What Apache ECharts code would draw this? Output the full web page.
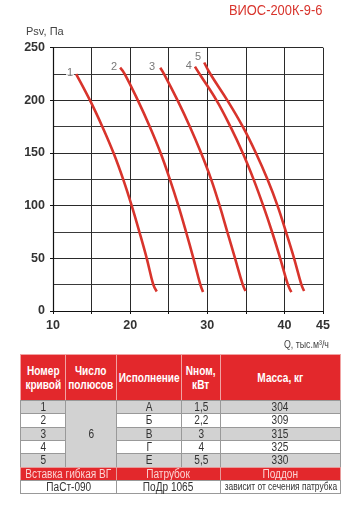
<!DOCTYPE html>
<html>
<head>
<meta charset="utf-8">
<script src="https://cdn.jsdelivr.net/npm/echarts@6/dist/echarts.min.js"></script>
<style>
  html,body{margin:0;padding:0;background:#fff;}
  #wrap{position:relative;width:358px;height:516px;overflow:hidden;}
  #chart{position:absolute;left:0;top:0;width:358px;height:516px;}
  .cell{position:absolute;box-sizing:border-box;display:flex;align-items:center;justify-content:center;text-align:center;overflow:visible;
        font-family:'Liberation Sans',Arial,sans-serif;color:#333;font-size:12px;line-height:12px;}
  .cell span{display:inline-block;white-space:nowrap;transform:scaleX(0.84);transform-origin:center center;}
</style>
</head>
<body>
<div id="wrap">
  <div id="chart"></div>
</div>
<script>
// ---- chart data ----
const xLabelValues = [10, 20, 30, 40, 45];
const curveNames = ['1', '2', '3', '4', '5'];
const curve1 = [[13.0,225],[14.8,200],[16.4,175],[17.85,150],[19.1,125],[20.2,100],[21.2,75],[22.15,50],[23.0,25],[23.45,18.5]];
const curve2 = [[18.7,231],[19.3,225],[21.0,200],[22.55,175],[23.95,150],[25.15,125],[26.25,100],[27.25,75],[28.2,50],[29.1,25],[29.45,18]];
const curve3 = [[23.9,231],[24.4,225],[26.15,200],[27.75,175],[29.2,150],[30.5,125],[31.6,100],[32.6,75],[33.6,50],[34.6,25],[34.95,19]];
const curve4 = [[28.4,232],[29.0,225],[31.2,200],[33.0,175],[34.6,150],[36.0,125],[37.25,100],[38.4,75],[39.45,50],[40.45,25],[40.9,18]];
const curve5 = [[29.6,236],[30.4,225],[32.6,200],[34.6,175],[36.3,150],[37.8,125],[39.1,100],[40.2,75],[41.25,50],[42.2,25],[42.55,19]];
const curves = [curve1, curve2, curve3, curve4, curve5];

// ---- table data ----
const curveNo = ['1', '2', '3', '4', '5'];
const poles = '6';
const versions = ['А', 'Б', 'В', 'Г', 'Е'];
const powers = ['1,5', '2,2', '3', '4', '5,5'];
const masses = ['304', '309', '315', '325', '330'];
const headers = [['Номер', 'кривой'], ['Число', 'полюсов'], ['Исполнение'], ['Nном,', 'кВт'], ['Масса, кг']];
const accHeaders = ['Вставка гибкая ВГ', 'Патрубок', 'Поддон'];
const accValues = ['ПаСт-090', 'ПоДр 1065', 'зависит от сечения патрубка'];

const RED = '#d8342c';
const FONT = "'Liberation Sans', Arial, sans-serif";

const chart = echarts.init(document.getElementById('chart'), null, {renderer: 'canvas'});

const series = curves.map((c, i) => ({
  type: 'line',
  name: curveNames[i],
  data: c,
  smooth: 0.4,
  showSymbol: false,
  symbol: 'none',
  lineStyle: {color: RED, width: 2.6},
  silent: true,
  z: 3
}));

// curve number labels at the start of each curve
series.push({
  type: 'scatter',
  symbolSize: 0,
  silent: true,
  z: 4,
  data: curves.map((c, i) => ({
    value: c[0],
    label: {
      show: true,
      formatter: curveNames[i],
      position: 'left',
      distance: i === 2 ? 4 : 2,
      offset: i === 4 ? [0, -5] : [0, -1],
      color: '#555',
      fontSize: 11,
      fontFamily: FONT,
      backgroundColor: '#fff',
      padding: [0, 1]
    }
  }))
});

chart.setOption({
  animation: false,
  grid: {left: 53, right: 35, top: 47.7, bottom: 205, containLabel: false},
  xAxis: {
    type: 'value', min: 10, max: 45, interval: 5,
    axisLine: {show: true, onZero: false, lineStyle: {color: '#111', width: 1.2}},
    axisTick: {show: true, length: 3, inside: false, lineStyle: {color: '#111'}},
    axisLabel: {
      color: '#333', fontWeight: 'bold', fontSize: 12.5, fontFamily: FONT, margin: 8,
      formatter: v => xLabelValues.indexOf(v) >= 0 ? String(v) : ''
    },
    splitLine: {show: true, lineStyle: {color: '#2a2a2a', width: 1}}
  },
  yAxis: {
    type: 'value', min: 0, max: 250, interval: 50,
    axisLine: {show: true, lineStyle: {color: '#111', width: 1.2}},
    axisTick: {show: true, length: 3, lineStyle: {color: '#111'}},
    axisLabel: {color: '#333', fontWeight: 'bold', fontSize: 12.5, fontFamily: FONT, margin: 8},
    splitLine: {show: true, lineStyle: {color: '#2a2a2a', width: 1}},
    minorTick: {show: false, splitNumber: 2},
    minorSplitLine: {show: true, lineStyle: {color: '#3a3a3a', width: 1}}
  },
  graphic: [
    {type: 'text', x: 229, y: 4, scaleX: 0.92, style: {text: 'ВИОС-200К-9-6', fill: RED, font: "14px 'Liberation Sans', Arial, sans-serif"}},
    {type: 'text', x: 26, y: 26, style: {text: 'Psv, Па', fill: '#444', font: "11px 'Liberation Sans', Arial, sans-serif"}},
    {type: 'text', x: 284, y: 339, scaleX: 0.8, style: {text: 'Q, тыс.м³/ч', fill: '#444', font: "11px 'Liberation Sans', Arial, sans-serif"}}
  ],
  series: series
});

// ---- table (HTML, real text) ----
const wrap = document.getElementById('wrap');
const colX = [20, 65, 116, 181, 220, 340];
const headTop = 354, headBot = 400, rowH = 13.33;
function cell(x0, x1, y0, y1, lines, style) {
  const d = document.createElement('div');
  d.className = 'cell';
  d.style.left = x0 + 'px';
  d.style.top = y0 + 'px';
  d.style.width = (x1 - x0 + 1) + 'px';
  d.style.height = (y1 - y0 + 1) + 'px';
  const s = document.createElement('span');
  (Array.isArray(lines) ? lines : [lines]).forEach((t, k) => {
    if (k) s.appendChild(document.createElement('br'));
    s.appendChild(document.createTextNode(t));
  });
  d.appendChild(s);
  Object.assign(d.style, style || {});
  wrap.appendChild(d);
}
const headStyle = {background: '#e3282c', color: '#fff', fontWeight: 'bold', fontSize: '12px', lineHeight: '14px', border: '1px solid #f1a3a3'};
headers.forEach((h, i) => cell(colX[i], colX[i + 1], headTop, headBot, h, headStyle));
const gray = '#d2d2d2';
for (let r = 0; r < 5; r++) {
  const y0 = headBot + r * rowH, y1 = headBot + (r + 1) * rowH;
  const bg = r % 2 === 0 ? gray : '#fff';
  const st = {background: bg, border: '1px solid #999'};
  cell(colX[0], colX[1], y0, y1, curveNo[r], st);
  cell(colX[2], colX[3], y0, y1, versions[r], st);
  cell(colX[3], colX[4], y0, y1, powers[r], st);
  cell(colX[4], colX[5], y0, y1, masses[r], st);
}
cell(colX[1], colX[2], headBot, headBot + 5 * rowH, poles, {background: gray, border: '1px solid #999'});
const accTop = headBot + 5 * rowH, accMid = accTop + rowH, accBot = accMid + rowH;
const accHeadStyle = {background: '#e3282c', color: '#fbd3d3', fontSize: '12px', border: '1px solid #e79a9a'};
cell(colX[0], colX[2], accTop, accMid, accHeaders[0], accHeadStyle);
cell(colX[2], colX[4], accTop, accMid, accHeaders[1], accHeadStyle);
cell(colX[4], colX[5], accTop, accMid, accHeaders[2], accHeadStyle);
const accStyle = {background: '#fff', border: '1px solid #999'};
cell(colX[0], colX[2], accMid, accBot, accValues[0], accStyle);
cell(colX[2], colX[4], accMid, accBot, accValues[1], accStyle);
cell(colX[4], colX[5], accMid, accBot, accValues[2], Object.assign({}, accStyle, {fontSize: '10px'}));
</script>
</body>
</html>
